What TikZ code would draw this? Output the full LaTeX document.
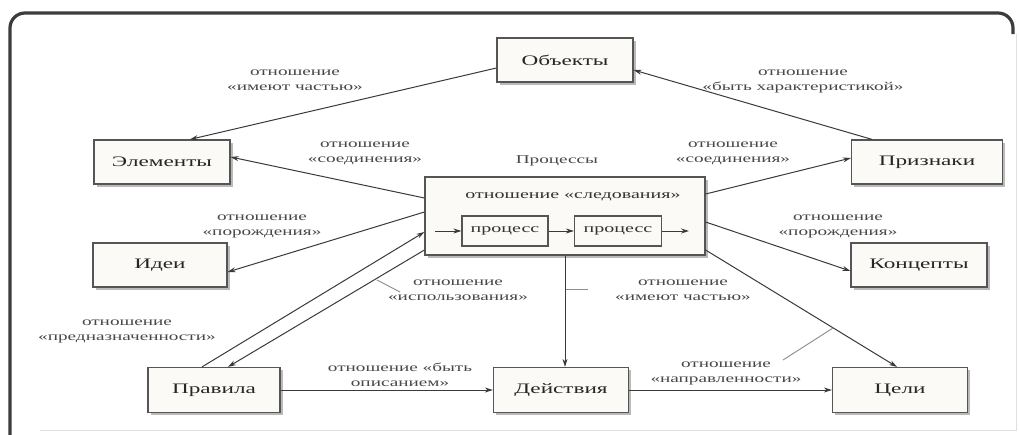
\documentclass[tikz,border=0pt]{standalone}
\usepackage{fontspec}
\setmainfont[FakeStretch=1.6]{Liberation Serif}
\usetikzlibrary{arrows.meta,calc,shadows}

\definecolor{boxfill}{HTML}{FCFAF7}
\definecolor{boxline}{HTML}{555555}
\definecolor{linkline}{HTML}{3A3A3A}
\definecolor{labeltext}{HTML}{484848}
\definecolor{frameline}{HTML}{3C3C3C}

\tikzset{
  entity/.style={draw=boxline, line width=1.2pt, fill=boxfill,
    minimum width=136pt, minimum height=44pt, inner sep=0pt,
    font=\fontsize{14.5}{16}\selectfont, text=black!85,
    drop shadow={shadow xshift=2.5pt, shadow yshift=-2.5pt, fill=black!45, opacity=0.6}},
  group/.style={entity, minimum width=280pt, minimum height=78pt},
  proc/.style={draw=boxline, line width=1.2pt, fill=boxfill,
    minimum width=86pt, minimum height=30pt, inner sep=0pt,
    font=\fontsize{12.5}{14}\selectfont, text=black!80},
  rel/.style={align=center, text=labeltext, inner sep=0pt,
    font=\fontsize{12}{15}\selectfont},
  link/.style={draw=linkline, line width=1pt,
    -{Stealth[length=8pt,width=5pt]}},
  leader/.style={draw=black!45, line width=0.9pt},
}

\begin{document}
\begin{tikzpicture}[x=1pt, y=-1pt]
  \useasboundingbox (0,0) rectangle (1019,434);
  \fill[white] (0,0) rectangle (1019,434);

  % outer frame
  \draw[frameline, line width=3.2pt, rounded corners=15pt]
    (10,436) -- (10,13) -- (1013,13) -- (1013,34);
  \draw[black!12, line width=1pt] (1016,34) -- (1016,430) -- (40,430);

  % entities
  \node[entity] (obj)   at (565,60)  {Объекты};
  \node[entity] (elem)  at (162,162) {Элементы};
  \node[entity, minimum width=151pt] (prizn) at (927,162) {Признаки};
  \node[entity, minimum width=134pt] (idei)  at (160,265) {Идеи};
  \node[entity] (konc)  at (919,265) {Концепты};
  \node[entity, minimum width=132pt, minimum height=45pt] (prav)  at (214,390) {Правила};
  \node[entity, minimum width=135pt, minimum height=45pt] (deist) at (561,390) {Действия};
  \node[entity, minimum width=135pt, minimum height=45pt] (celi)  at (900,390) {Цели};

  % process group
  \node[group] (big) at (565,216) {};
  \node[rel, font=\fontsize{12.5}{14}\selectfont, text=black!80] (bigtitle) at (573,197) {отношение «следования»};
  \node[proc] (p1) at (505,231) {процесс};
  \node[proc, minimum width=87pt] (p2) at (618,231) {процесс};
  \coordinate (pin)  at (435,231);
  \coordinate (pout) at (689,231);
  \draw[link] (pin) -- (p1.west);
  \draw[link] (p1.east) -- (p2.west);
  \draw[link] (p2.east) -- (pout);
  \node[rel] (proctitle) at (557,161) {Процессы};

  % relations
  \draw[link] ($(obj.west)+(0,8)$) -- ($(elem.north)+(28,0)$);
  \draw[link] ($(prizn.north)+(-55,0)$) -- ($(obj.east)+(0,10)$);
  \draw[link] ($(big.west)+(0,-18)$) -- ($(elem.east)+(0,-5)$);
  \draw[link] ($(big.east)+(0,-22)$) -- ($(prizn.west)+(0,-4)$);
  \draw[link] ($(big.west)+(0,-4)$) -- ($(idei.east)+(0,7)$);
  \draw[link] ($(big.east)+(0,6)$) -- ($(konc.west)+(0,6)$);
  \draw[link] ($(prav.north)+(-12,0)$) -- ($(big.west)+(0,16)$);
  \draw[link] ($(big.west)+(0,34)$) -- ($(prav.north)+(14,0)$);
  \draw[link] (big.south) -- (big.south |- deist.north);
  \draw[link] ($(big.east)+(0,34)$) -- ($(celi.north)+(-3,0)$);
  \draw[link] (prav.east) -- (deist.west);
  \draw[link] (deist.east) -- (celi.west);

  % leader lines
  \coordinate (l1a) at (377,280); \coordinate (l1b) at (400,292);
  \coordinate (l2a) at (566,289); \coordinate (l2b) at (588,289);
  \coordinate (l3a) at (833,328); \coordinate (l3b) at (783,360);
  \draw[leader] (l1a) -- (l1b);
  \draw[leader] (l2a) -- (l2b);
  \draw[leader] (l3a) -- (l3b);

  % relation labels
  \node[rel] (r1)  at (295,80)  {отношение\\«имеют частью»};
  \node[rel] (r2)  at (803,81)  {отношение\\«быть характеристикой»};
  \node[rel] (r3)  at (365,153) {отношение\\«соединения»};
  \node[rel] (r4)  at (733,153) {отношение\\«соединения»};
  \node[rel] (r5)  at (262,226) {отношение\\«порождения»};
  \node[rel] (r6)  at (838,226) {отношение\\«порождения»};
  \node[rel] (r7)  at (127,331) {отношение\\«предназначенности»};
  \node[rel] (r8)  at (458,290) {отношение\\«использования»};
  \node[rel] (r9)  at (683,290) {отношение\\«имеют частью»};
  \node[rel] (r10) at (400,375) {отношение «быть\\описанием»};
  \node[rel] (r11) at (726,373) {отношение\\«направленности»};
\end{tikzpicture}
\end{document}
